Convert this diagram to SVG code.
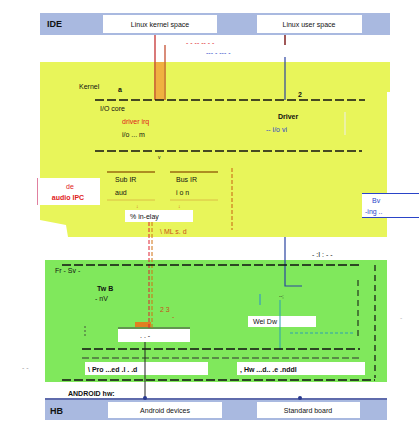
<svg xmlns="http://www.w3.org/2000/svg" width="419" height="423" viewBox="0 0 419 423">
<style>
text{font-family:"Liberation Sans",Arial,sans-serif;font-size:7px;fill:#111}
.b{font-weight:bold}
.red{fill:#e0201a}
.blue{fill:#2a44c8}
.org{fill:#c8501a}
.dash{stroke:#111;stroke-width:1.6;stroke-dasharray:9 3;fill:none}
.dash2{stroke:#333;stroke-width:1;stroke-dasharray:7 3;fill:none}
.wbox{fill:#fff}
</style>
<rect width="419" height="423" fill="#fff"/>
<g id="top-bar">
<rect x="40" y="13" width="350" height="22" fill="#a9b9e0"/>
<text x="47" y="27" class="b" style="font-size:9px">IDE</text>
<rect x="103" y="15" width="114" height="18" class="wbox"/>
<text x="160" y="27" text-anchor="middle">Linux kernel space</text>
<rect x="257" y="15" width="105" height="18" class="wbox"/>
<text x="309" y="27" text-anchor="middle">Linux user space</text>
</g>
<g id="yellow-region">
<polygon points="40,62 390,62 390,92 387,92 387,237 68,237 66,225 40,220" fill="#e8f55a"/>
</g>
<g id="green-region">
<rect x="45" y="260" width="342" height="122" fill="#80e85c"/>
</g>
<g id="bottom-bar">
<rect x="45" y="400" width="342" height="20" fill="#a9b9e0"/>
<text x="50" y="414" class="b" style="font-size:9px">HB</text>
<rect x="108" y="402" width="114" height="16" class="wbox"/>
<text x="165" y="413" text-anchor="middle">Android devices</text>
<rect x="257" y="402" width="103" height="16" class="wbox"/>
<text x="308" y="413" text-anchor="middle">Standard board</text>
</g>
<g id="labels-top">
<text x="186" y="45" class="red">- - -- -- - -</text>
<text x="206" y="55" class="blue">--- - --- -</text>
<text x="79" y="89">Kernel</text>
<text x="118" y="92" class="b">a</text>
<text x="298" y="97" class="b">2</text>
</g>
<g id="kernel-block">
<text x="100" y="111">I/O core</text>
<text x="122" y="124" class="red">driver irq</text>
<text x="122" y="137">i/o ... m</text>
<text x="278" y="119" class="b">Driver</text>
<text x="266" y="132" class="blue">-- i/o vi</text>
<line x1="345" y1="112" x2="345" y2="135" stroke="#eee" stroke-width="1"/>
<text x="158" y="159" style="font-size:5px">v</text>
</g>
<g id="sub-a">
<line x1="107" y1="172" x2="155" y2="172" stroke="#9a6a10" stroke-width="1.5"/>
<text x="115" y="182">Sub IR</text>
<text x="115" y="195">aud</text>
<line x1="107" y1="200" x2="155" y2="200" stroke="#d8b040" stroke-width="0.8"/>
<text x="136" y="208" class="org" style="font-size:5px">↓</text>
</g>
<g id="sub-b">
<line x1="170" y1="172" x2="218" y2="172" stroke="#9a6a10" stroke-width="1.5"/>
<text x="176" y="182">Bus IR</text>
<text x="176" y="195">i o n</text>
<line x1="170" y1="200" x2="218" y2="200" stroke="#d8b040" stroke-width="0.8"/>
<text x="178" y="208" class="org" style="font-size:5px">↓</text>
</g>
<g id="red-note">
<rect x="37" y="178" width="63" height="27" class="wbox"/>
<line x1="37.5" y1="178" x2="37.5" y2="205" stroke="#e080a0" stroke-width="1"/>
<text x="70" y="189" class="red" text-anchor="middle">de</text>
<text x="68" y="200" class="red b" text-anchor="middle">audio IPC</text>
</g>
<g id="merge-box">
<rect x="125" y="210" width="68" height="12" class="wbox"/>
<text x="130" y="219">% in-elay</text>
<text x="160" y="234" class="org">\ ML s. d</text>
</g>
<g id="blue-note">
<rect x="362" y="193" width="57" height="25" class="wbox"/>
<line x1="362" y1="193.5" x2="419" y2="193.5" stroke="#2a44c8" stroke-width="1"/>
<line x1="362" y1="217.5" x2="419" y2="217.5" stroke="#2a44c8" stroke-width="1"/>
<text x="372" y="203" class="blue">Bv</text>
<text x="365" y="214" class="blue">-ing ..</text>
</g>
<g id="green-labels">
<text x="312" y="257">- :I  : - -</text>
<text x="55" y="273">Fr - Sv -</text>
<text x="97" y="291" class="b">Tw B</text>
<text x="95" y="301">- nV</text>
<text x="160" y="312" class="org">2 3</text>
<text x="172" y="319" class="org">-</text>
<text x="279" y="298" style="font-size:5px">--;</text>
<text x="22" y="370" style="fill:#999">- -</text>
<text x="400" y="320" style="fill:#bbb">-</text>
</g>
<g id="hal-box">
<rect x="135" y="322" width="16" height="5" fill="#e08020"/>
<line x1="118" y1="328" x2="190" y2="328" stroke="#444" stroke-width="1.2"/>
<rect x="118" y="329" width="72" height="13" class="wbox"/>
<text x="140" y="338">. . -</text>
</g>
<g id="wei-box">
<rect x="248" y="316" width="68" height="11" class="wbox"/>
<text x="253" y="324">Wei  Dw</text>
</g>
<g id="hal-left">
<rect x="85" y="362" width="123" height="13" class="wbox"/>
<text x="88" y="372" class="b">\ Pro ...ed .l . .d</text>
</g>
<g id="hal-right">
<rect x="237" y="362" width="128" height="13" class="wbox"/>
<text x="240" y="372" class="b">, Hw ...d.. .e .nddl</text>
</g>
<g id="bottom-label">
<text x="68" y="396" class="b">ANDROID hw:</text>
</g>
<g id="connectors">
<line x1="155" y1="35" x2="155" y2="100" stroke="#c02020" stroke-width="1.2"/>
<rect x="156" y="62" width="8" height="38" fill="#f0b040"/>
<line x1="165" y1="45" x2="165" y2="100" stroke="#c04020" stroke-width="1.2"/>
<line x1="285" y1="35" x2="285" y2="45" stroke="#802020" stroke-width="1.5"/>
<line x1="285" y1="57" x2="285" y2="100" stroke="#2a44a0" stroke-width="1.2"/>
<path class="dash" d="M95 100H365"/>
<path class="dash" d="M95 151H362"/>
<path d="M232 168V230" stroke="#c86010" stroke-width="1" stroke-dasharray="4 2" fill="none"/>
<path d="M149 222V328" stroke="#e02030" stroke-width="1" stroke-dasharray="4 2" fill="none"/>
<path d="M152 222V328" stroke="#d07010" stroke-width="1" stroke-dasharray="4 2" fill="none"/>
<path d="M285 237V286H302" stroke="#2a44a0" stroke-width="1.2" fill="none"/>
<path class="dash" d="M62 265H360"/>
<path d="M375 265V378" stroke="#111" stroke-width="1.2" stroke-dasharray="6 4" fill="none"/>
<path d="M358 280V340" stroke="#111" stroke-width="1" stroke-dasharray="6 4" fill="none"/>
<line x1="260" y1="294" x2="260" y2="305" stroke="#2a8ad0" stroke-width="1"/>
<path d="M280 300V350" stroke="#2aa0b0" stroke-width="1" fill="none"/>
<path d="M290 333H355" stroke="#2aa0b0" stroke-width="1" stroke-dasharray="3 2" fill="none"/>
<path d="M85 326V336" stroke="#333" stroke-width="0.8" stroke-dasharray="2 2" fill="none"/>
<path class="dash" d="M82 349H360"/>
<path class="dash2" d="M82 358H360"/>
<path class="dash" d="M62 380H375"/>
<line x1="145" y1="342" x2="145" y2="398" stroke="#222" stroke-width="1"/>
<line x1="45" y1="399" x2="387" y2="399" stroke="#2a3a90" stroke-width="1.5"/>
<circle cx="145" cy="398" r="2" fill="#2a3a90"/>
<circle cx="300" cy="398" r="2" fill="#2a3a90"/>
</g>
</svg>
